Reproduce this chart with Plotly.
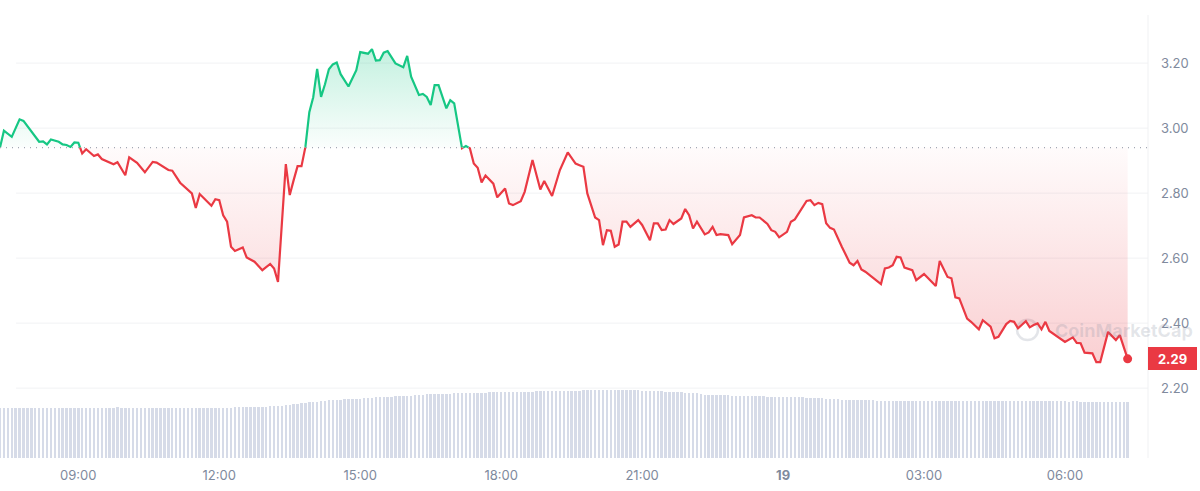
import numpy as np
import pandas as pd
import plotly.graph_objects as go

# ---------------- data ----------------
START = "2024-06-18 07:20"

price_minutes = [
    0, 5, 15, 25, 30, 40, 50, 55, 60, 65, 75, 80, 85, 90, 95, 100, 105, 110, 120, 125,
    130, 145, 150, 160, 165, 175, 185, 195, 200, 215, 220, 230, 240, 245, 250, 255, 270, 275, 280, 285,
    290, 295, 300, 310, 315, 325, 335, 345, 350, 355, 365, 370, 375, 380, 385, 390, 395, 400, 405, 410,
    415, 420, 425, 430, 435, 445, 455, 460, 470, 475, 480, 485, 490, 495, 505, 515, 520, 525, 535, 540,
    545, 550, 555, 560, 570, 575, 580, 590, 595, 600, 605, 610, 615, 620, 630, 635, 645, 650, 655, 665,
    670, 680, 690, 695, 705, 715, 725, 735, 740, 745, 750, 760, 765, 770, 775, 780, 785, 790, 795, 800,
    805, 815, 820, 830, 835, 840, 845, 850, 855, 860, 870, 875, 880, 885, 890, 900, 905, 910, 915, 920,
    930, 935, 945, 950, 960, 965, 970, 980, 985, 990, 995, 1005, 1010, 1015, 1030, 1035, 1040, 1045, 1050, 1055,
    1060, 1065, 1075, 1085, 1090, 1095, 1100, 1105, 1115, 1125, 1130, 1135, 1140, 1145, 1150, 1155, 1165, 1170, 1180, 1195,
    1200, 1205, 1210, 1215, 1220, 1225, 1235, 1240, 1250, 1255, 1265, 1270, 1275, 1285, 1290, 1295, 1300, 1310, 1315, 1320,
    1325, 1330, 1335, 1340, 1350, 1360, 1370, 1375, 1380, 1385, 1395, 1400, 1405, 1415, 1425, 1430, 1440,
]

price_values = [
    2.940, 2.992, 2.973, 3.027, 3.022, 2.989, 2.958, 2.959, 2.950, 2.965, 2.958, 2.950, 2.948, 2.942, 2.956, 2.955, 2.922, 2.935, 2.914, 2.919,
    2.905, 2.889, 2.895, 2.855, 2.910, 2.893, 2.864, 2.896, 2.894, 2.871, 2.869, 2.832, 2.811, 2.799, 2.754, 2.797, 2.761, 2.781, 2.778, 2.732,
    2.712, 2.635, 2.622, 2.633, 2.602, 2.589, 2.563, 2.582, 2.568, 2.527, 2.889, 2.794, 2.840, 2.883, 2.883, 2.942, 3.049, 3.095, 3.182, 3.096,
    3.135, 3.181, 3.196, 3.202, 3.166, 3.128, 3.178, 3.234, 3.229, 3.243, 3.208, 3.209, 3.232, 3.237, 3.199, 3.187, 3.222, 3.158, 3.102, 3.105,
    3.096, 3.071, 3.132, 3.132, 3.061, 3.086, 3.076, 2.938, 2.945, 2.938, 2.891, 2.878, 2.833, 2.854, 2.829, 2.787, 2.814, 2.768, 2.763, 2.775,
    2.804, 2.902, 2.811, 2.837, 2.791, 2.871, 2.925, 2.891, 2.886, 2.881, 2.799, 2.725, 2.717, 2.640, 2.686, 2.684, 2.635, 2.642, 2.712, 2.712,
    2.696, 2.717, 2.702, 2.655, 2.707, 2.707, 2.686, 2.688, 2.717, 2.705, 2.722, 2.751, 2.732, 2.691, 2.712, 2.673, 2.679, 2.696, 2.671, 2.674,
    2.671, 2.643, 2.671, 2.725, 2.732, 2.725, 2.725, 2.705, 2.686, 2.681, 2.664, 2.681, 2.712, 2.719, 2.776, 2.778, 2.763, 2.770, 2.766, 2.707,
    2.693, 2.688, 2.635, 2.586, 2.578, 2.591, 2.565, 2.558, 2.539, 2.520, 2.568, 2.571, 2.578, 2.604, 2.602, 2.571, 2.563, 2.532, 2.551, 2.514,
    2.591, 2.568, 2.542, 2.538, 2.479, 2.476, 2.414, 2.404, 2.381, 2.409, 2.389, 2.353, 2.358, 2.397, 2.407, 2.404, 2.384, 2.406, 2.387, 2.394,
    2.399, 2.381, 2.404, 2.376, 2.358, 2.342, 2.356, 2.339, 2.338, 2.309, 2.307, 2.280, 2.280, 2.373, 2.348, 2.363, 2.290,
]

base_price = 2.94          # dotted reference (open) price
last_price_label = "2.29"

# 24h volume (arbitrary units), one bar every 5 minutes, 12 bars per row = 1 hour
volume_values = [
    250, 249, 251, 250, 250, 249, 251, 250, 250, 251, 250, 250,
    251, 250, 250, 251, 252, 250, 251, 250, 250, 251, 252, 251,
    252, 251, 252, 252, 251, 252, 253, 252, 252, 251, 252, 252,
    251, 250, 250, 251, 250, 250, 249, 250, 250, 251, 250, 250,
    250, 251, 250, 250, 251, 251, 250, 251, 252, 251, 251, 252,
    253, 253, 254, 254, 255, 255, 256, 256, 257, 258, 258, 259,
    262, 265, 267, 270, 272, 274, 276, 278, 280, 282, 284, 285,
    288, 290, 291, 292, 293, 294, 295, 296, 297, 298, 299, 300,
    303, 304, 305, 306, 307, 308, 309, 310, 311, 312, 313, 314,
    317, 318, 319, 320, 320, 321, 322, 322, 323, 324, 324, 325,
    325, 326, 326, 327, 327, 328, 328, 329, 329, 329, 330, 330,
    331, 331, 332, 332, 332, 333, 333, 334, 334, 334, 335, 335,
    336, 336, 337, 337, 337, 338, 338, 339, 339, 339, 340, 340,
    340, 340, 339, 339, 339, 338, 338, 338, 337, 337, 336, 336,
    334, 333, 332, 331, 330, 329, 328, 327, 326, 325, 323, 322,
    317, 316, 315, 315, 314, 313, 313, 312, 311, 311, 310, 310,
    309, 309, 308, 308, 307, 307, 306, 306, 306, 305, 305, 305,
    304, 303, 302, 301, 300, 299, 298, 297, 296, 295, 294, 292,
    290, 290, 289, 289, 289, 288, 288, 288, 287, 287, 287, 287,
    287, 286, 287, 286, 286, 287, 286, 286, 286, 285, 286, 286,
    285, 286, 285, 285, 286, 285, 285, 285, 284, 285, 285, 285,
    285, 284, 285, 285, 284, 285, 284, 284, 285, 284, 284, 284,
    284, 283, 284, 283, 283, 284, 283, 283, 283, 282, 283, 283,
    282, 281, 282, 281, 281, 280, 281, 280, 280, 280, 279, 280,
    280,
]

y_tick_values = [2.20, 2.40, 2.60, 2.80, 3.00, 3.20]
y_tick_text = ["2.20", "2.40", "2.60", "2.80", "3.00", "3.20"]
x_tick_times = ["2024-06-18 09:00", "2024-06-18 12:00", "2024-06-18 15:00", "2024-06-18 18:00",
                "2024-06-18 21:00", "2024-06-19 00:00", "2024-06-19 03:00", "2024-06-19 06:00"]
x_tick_text = ["09:00", "12:00", "15:00", "18:00", "21:00", "<b>19</b>", "03:00", "06:00"]

GREEN = "#16c784"
RED = "#ea3943"
GRAY = "#808A9D"
FONT = "Inter"

# ---------------- derived series ----------------
t0 = pd.Timestamp(START)
m = np.array(price_minutes, dtype=float)
v = np.array(price_values, dtype=float)

mm, vv = [m[0]], [v[0]]
for i in range(1, len(m)):
    a, b = v[i - 1], v[i]
    if (a - base_price) * (b - base_price) < 0:
        f = (base_price - a) / (b - a)
        mm.append(m[i - 1] + f * (m[i] - m[i - 1]))
        vv.append(base_price)
    mm.append(m[i])
    vv.append(b)
mm = np.array(mm)
vv = np.array(vv)
times = t0 + pd.to_timedelta(mm, unit="min")

upper = np.maximum(vv, base_price)
lower = np.minimum(vv, base_price)
green_line = [x if x >= base_price else None for x in vv]
red_line = [x if x <= base_price else None for x in vv]
base_arr = np.full(len(vv), base_price)

vol_times = t0 + pd.to_timedelta(np.arange(len(volume_values)) * 5, unit="min")

# ---------------- figure ----------------
fig = go.Figure()

fig.add_trace(go.Bar(x=vol_times, y=volume_values, yaxis="y2", marker_color="#d6dbe8",
                     marker_line_width=0, width=5 * 60 * 1000 * 0.62, hoverinfo="skip"))

fig.add_trace(go.Scatter(x=times, y=base_arr, mode="lines", line=dict(width=0), hoverinfo="skip"))
fig.add_trace(go.Scatter(x=times, y=upper, mode="lines", line=dict(width=0), fill="tonexty",
                         fillgradient=dict(type="vertical", start=base_price, stop=3.25,
                                           colorscale=[[0, "rgba(22,199,132,0.02)"],
                                                       [1, "rgba(22,199,132,0.26)"]]),
                         hoverinfo="skip"))
fig.add_trace(go.Scatter(x=times, y=base_arr, mode="lines", line=dict(width=0), hoverinfo="skip"))
fig.add_trace(go.Scatter(x=times, y=lower, mode="lines", line=dict(width=0), fill="tonexty",
                         fillgradient=dict(type="vertical", start=2.28, stop=base_price,
                                           colorscale=[[0, "rgba(234,57,67,0.24)"],
                                                       [1, "rgba(234,57,67,0.02)"]]),
                         hoverinfo="skip"))

fig.add_trace(go.Scatter(x=times, y=green_line, mode="lines", line=dict(color=GREEN, width=2.2),
                         connectgaps=False))
fig.add_trace(go.Scatter(x=times, y=red_line, mode="lines", line=dict(color=RED, width=2.2),
                         connectgaps=False))
fig.add_trace(go.Scatter(x=[times[-1]], y=[vv[-1]], mode="markers",
                         marker=dict(color=RED, size=9)))

x_end = t0 + pd.Timedelta(hours=24, minutes=26)

shapes = []
for tv in y_tick_values:
    shapes.append(dict(type="line", xref="paper", yref="y", x0=0.014, x1=1, y0=tv, y1=tv,
                       line=dict(color="#f1f2f4", width=1), layer="below"))
shapes.append(dict(type="line", xref="paper", yref="y", x0=0, x1=1, y0=base_price, y1=base_price,
                   line=dict(color="#a3a8b4", width=1.2, dash="1px,5px"), layer="above"))
shapes.append(dict(type="line", xref="paper", yref="paper", x0=1, x1=1, y0=0, y1=1,
                   line=dict(color="#f0f1f3", width=1), layer="below"))
# watermark logo ring
shapes.append(dict(type="circle", xref="paper", yref="y", x0=1017 / 1148, x1=1038 / 1148,
                   y0=2.348, y1=2.410, line=dict(color="rgba(128,138,157,0.22)", width=2.5),
                   layer="below"))

annotations = [
    dict(xref="paper", yref="y", x=1053 / 1148, y=2.378, xanchor="left", yanchor="middle",
         text="<b>CoinMarketCap</b>", showarrow=False,
         font=dict(family=FONT, size=18, color="rgba(128,138,157,0.22)")),
    dict(xref="paper", yref="y", x=1, y=2.29, xanchor="left", yanchor="middle",
         text="<b>" + last_price_label + "</b>", showarrow=False,
         font=dict(family=FONT, size=13, color="white"),
         bgcolor=RED, bordercolor=RED, borderwidth=1, borderpad=1, width=45, height=19),
]

fig.update_layout(
    width=1200, height=491,
    margin=dict(l=0, r=52, t=15, b=33),
    plot_bgcolor="white", paper_bgcolor="white",
    showlegend=False,
    bargap=0,
    xaxis=dict(type="date", range=[t0, x_end], tickvals=x_tick_times, ticktext=x_tick_text,
               showgrid=False, zeroline=False, showline=False, ticks="",
               tickfont=dict(family=FONT, size=13, color=GRAY), ticklabelstandoff=8),
    yaxis=dict(side="right", range=[1.985, 3.348], tickvals=y_tick_values, ticktext=y_tick_text,
               showgrid=False, zeroline=False, showline=False, ticks="",
               tickfont=dict(family=FONT, size=13, color=GRAY), ticklabelstandoff=12),
    yaxis2=dict(overlaying="y", range=[0, 2215], visible=False, fixedrange=True),
    shapes=shapes,
    annotations=annotations,
)

fig.write_html("out.html")
